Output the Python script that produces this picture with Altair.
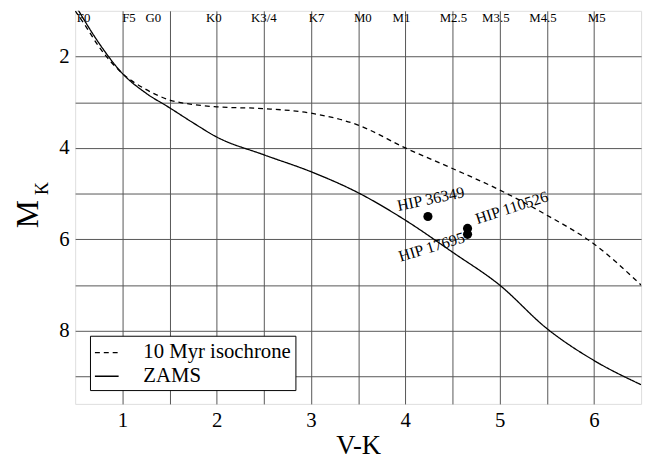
import altair as alt
import pandas as pd

# ZAMS curve (V-K, M_K)
zams_vk = [0.5, 0.75, 1.0, 1.25, 1.5, 1.75, 2.0, 2.5, 3.0, 3.5, 4.0, 4.5, 5.0, 5.5, 6.0, 6.5]
zams_mk = [0.87, 1.7, 2.37, 2.8, 3.12, 3.45, 3.76, 4.15, 4.52, 4.98, 5.58, 6.28, 7.0, 7.95, 8.65, 9.18]

# 10 Myr isochrone
iso_vk = [0.5, 0.6, 0.75, 1.0, 1.25, 1.5, 1.75, 2.0, 2.5, 3.0, 3.5, 4.0, 4.5, 5.0, 5.5, 6.0, 6.5]
iso_mk = [1.0, 1.3, 1.78, 2.37, 2.72, 2.95, 3.05, 3.1, 3.14, 3.24, 3.5, 4.0, 4.45, 4.92, 5.47, 6.1, 7.0]

series_names = ["10 Myr isochrone", "ZAMS"]

# stars
star_names = ["HIP 36349", "HIP 110526", "HIP 17695"]
star_vk = [4.24, 4.66, 4.66]
star_mk = [5.50, 5.76, 5.89]

# star label anchor positions (data units)
label_vk = [4.27, 5.13, 4.28]
label_mk = [5.12, 5.31, 6.17]
label_angle = [348, 342, 343]

# spectral type labels along top
sp_types = ["F0", "F5", "G0", "K0", "K3/4", "K7", "M0", "M1", "M2.5", "M3.5", "M4.5", "M5"]
sp_vk = [0.59, 1.07, 1.33, 1.97, 2.50, 3.06, 3.55, 3.96, 4.51, 4.96, 5.46, 6.03]

x_grid = [1.0, 1.5, 2.0, 2.5, 3.0, 3.5, 4.0, 4.5, 5.0, 5.5, 6.0]
y_grid = [2, 3, 4, 5, 6, 7, 8, 9]

FONT = "Liberation Serif"

lines_df = pd.concat([
    pd.DataFrame({"vk": iso_vk, "mk": iso_mk, "series": series_names[0], "o": range(len(iso_vk))}),
    pd.DataFrame({"vk": zams_vk, "mk": zams_mk, "series": series_names[1], "o": range(len(zams_vk))}),
])

xscale = alt.Scale(domain=[0.5, 6.5], nice=False, zero=False)
yscale = alt.Scale(domain=[1, 9.6], nice=False, zero=False, reverse=True)

xax = alt.Axis(values=x_grid, labelExpr="datum.value % 1 == 0 ? format(datum.value, 'd') : ''",
               title="V-K", grid=True, ticks=False, domain=False,
               labelFont=FONT, labelFontSize=21, labelColor="black", labelPadding=6,
               titleFont=FONT, titleFontSize=27, titleFontWeight="normal", titleColor="black",
               titlePadding=2, gridColor="#555", gridWidth=1, labelFlush=False)
yax = alt.Axis(values=y_grid, labelExpr="datum.value % 2 == 0 ? format(datum.value, 'd') : ''",
               title=None, grid=True, ticks=False, domain=False,
               labelFont=FONT, labelFontSize=21, labelColor="black", labelPadding=6,
               gridColor="#555", gridWidth=1, labelFlush=False)

lines = alt.Chart(lines_df).mark_line(color="black", strokeWidth=1.3, clip=True, interpolate="monotone").encode(
    x=alt.X("vk:Q", scale=xscale, axis=xax),
    y=alt.Y("mk:Q", scale=yscale, axis=yax),
    order="o:Q",
    strokeDash=alt.StrokeDash("series:N",
        scale=alt.Scale(domain=series_names, range=[[5, 4], [1, 0]]),
        legend=alt.Legend(title=None, orient="none", legendX=15, legendY=329,
                          fillColor="white", strokeColor="black", padding=4,
                          symbolType="stroke", symbolSize=576, symbolStrokeWidth=1.3,
                          symbolStrokeColor="black", labelFont=FONT, labelFontSize=21,
                          labelColor="black", rowPadding=1, labelOffset=24, cornerRadius=0)),
)

stars_df = pd.DataFrame({"vk": star_vk, "mk": star_mk, "name": star_names})
points = alt.Chart(stars_df).mark_point(filled=True, color="black", size=85, opacity=1, shape="circle").encode(
    x="vk:Q", y="mk:Q")

label_layers = []
for n, v, m, a in zip(star_names, label_vk, label_mk, label_angle):
    d = pd.DataFrame({"vk": [v], "mk": [m], "name": [n]})
    label_layers.append(
        alt.Chart(d).mark_text(font=FONT, fontSize=16, color="black", angle=a,
                               align="center", baseline="middle").encode(
            x="vk:Q", y="mk:Q", text="name:N"))

sp_df = pd.DataFrame({"vk": sp_vk, "sp": sp_types})
sp_text = alt.Chart(sp_df).mark_text(font=FONT, fontSize=13, color="black", align="center",
                                     baseline="middle").encode(
    x="vk:Q", y=alt.value(7), text="sp:N")

m_title = alt.Chart(pd.DataFrame({"t": ["M"]})).mark_text(
    font=FONT, fontSize=32, color="black", angle=270, align="center", baseline="alphabetic").encode(
    text="t:N", x=alt.value(-38), y=alt.value(206))
k_title = alt.Chart(pd.DataFrame({"t": ["K"]})).mark_text(
    font=FONT, fontSize=18, color="black", angle=270, align="center", baseline="alphabetic").encode(
    text="t:N", x=alt.value(-27), y=alt.value(180))

chart = alt.layer(lines, points, *label_layers, sp_text, m_title, k_title).properties(
    width=573, height=398,
    autosize=alt.AutoSizeParams(type="none"),
    padding={"left": 68, "top": 0, "right": 8, "bottom": 58},
).configure_view(stroke="black", strokeWidth=1.5).configure(background="white")

chart.save("out.html", embed_options={"renderer": "svg", "actions": False})
